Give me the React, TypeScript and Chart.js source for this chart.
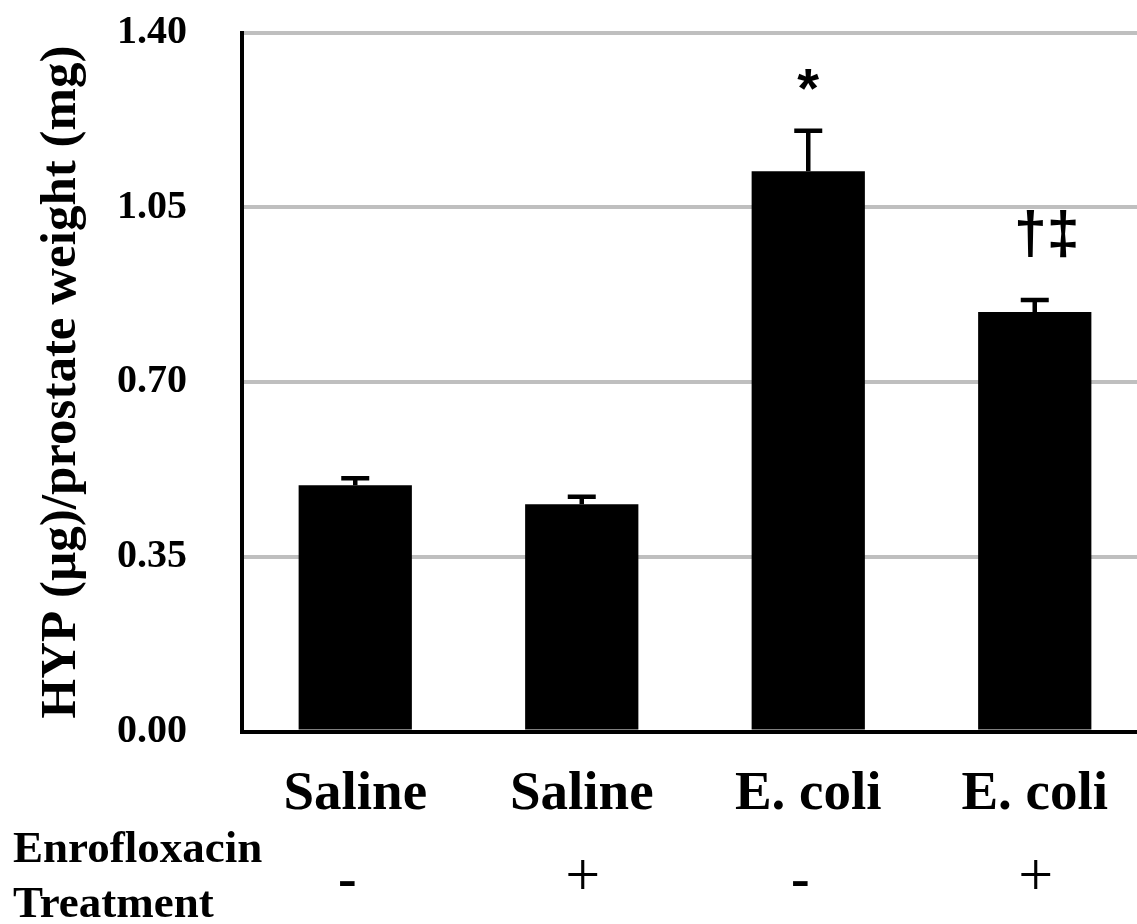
import React, { useEffect, useRef } from "react";
import { Chart, registerables } from "chart.js";

Chart.register(...registerables);

// ---- data ----
const categories = ["Saline", "Saline", "E. coli", "E. coli"];
const treatment = ["-", "+", "-", "+"];
const hypValues = [0.493, 0.455, 1.122, 0.84];
const hypErrors = [0.014, 0.015, 0.081, 0.024];
const markers = ["", "", "*", "†‡"];
const yTicks = [0, 0.35, 0.7, 1.05, 1.4];

const SERIF = '"Liberation Serif", "Times New Roman", serif';
const SANS = '"Liberation Sans", Arial, sans-serif';

const errorBarPlugin = {
  id: "errorBars",
  afterDatasetsDraw(chart: any) {
    const ctx = chart.ctx;
    const meta = chart.getDatasetMeta(0);
    const y = chart.scales.y;
    ctx.save();
    ctx.strokeStyle = "#000";
    ctx.lineWidth = 4.5;
    meta.data.forEach((bar: any, i: number) => {
      const top = y.getPixelForValue(hypValues[i] + hypErrors[i]);
      ctx.beginPath();
      ctx.moveTo(bar.x, bar.y);
      ctx.lineTo(bar.x, top);
      ctx.moveTo(bar.x - 14, top);
      ctx.lineTo(bar.x + 14, top);
      ctx.stroke();
    });
    ctx.restore();
  },
};

const markerPlugin = {
  id: "markers",
  afterDatasetsDraw(chart: any) {
    const ctx = chart.ctx;
    const meta = chart.getDatasetMeta(0);
    const y = chart.scales.y;
    ctx.save();
    ctx.fillStyle = "#000";
    ctx.textAlign = "center";
    ctx.textBaseline = "alphabetic";
    meta.data.forEach((bar: any, i: number) => {
      const m = markers[i];
      if (!m) return;
      const top = y.getPixelForValue(hypValues[i] + hypErrors[i]);
      if (m === "*") {
        ctx.font = `bold 56px ${SANS}`;
        ctx.fillText(m, bar.x, top - 24);
      } else {
        ctx.font = `bold 59px ${SANS}`;
        ctx.fillText(m, bar.x + 12, top - 47);
      }
    });
    ctx.restore();
  },
};

const rowPlugin = {
  id: "rowLabels",
  afterDraw(chart: any) {
    const ctx = chart.ctx;
    const xs = chart.scales.x;
    ctx.save();
    ctx.fillStyle = "#000";
    ctx.textBaseline = "alphabetic";
    ctx.textAlign = "left";
    ctx.font = `bold 45px ${SERIF}`;
    ctx.fillText("Enrofloxacin", 13, 862);
    ctx.fillText("Treatment", 13, 917);
    ctx.textAlign = "center";
    treatment.forEach((t, i) => {
      const px = xs.getPixelForValue(i);
      if (t === "+") {
        ctx.font = `62px ${SERIF}`;
        ctx.fillText("+", px + 1, 895);
      } else {
        ctx.font = `bold 56px ${SERIF}`;
        ctx.fillText("-", px - 8, 897);
      }
    });
    ctx.restore();
  },
};

export default function App() {
  const ref = useRef<HTMLCanvasElement | null>(null);

  useEffect(() => {
    document.body.style.margin = "0";
    if (!ref.current) return;
    Chart.defaults.color = "#000";
    const chart = new Chart(ref.current, {
      type: "bar",
      data: {
        labels: categories,
        datasets: [
          {
            data: hypValues,
            backgroundColor: "#000",
            borderWidth: 0,
            barPercentage: 0.5,
            categoryPercentage: 1,
          },
        ],
      },
      options: {
        responsive: false,
        animation: false,
        layout: { padding: { left: 0, top: 32.5, right: 12, bottom: 0 } },
        plugins: {
          legend: { display: false },
          tooltip: { enabled: false },
        },
        scales: {
          x: {
            grid: { display: true, color: "rgba(0,0,0,0)", drawTicks: false },
            border: { display: true, color: "#000", width: 4 },
            ticks: {
              font: { family: SERIF, weight: "bold", size: 55 },
              color: "#000",
              padding: 30.5,
              maxRotation: 0,
              autoSkip: false,
            },
            afterFit(scale: any) {
              scale.height = 192.5;
            },
          },
          y: {
            min: 0,
            max: 1.4,
            afterBuildTicks(scale: any) {
              scale.ticks = yTicks.map((v) => ({ value: v }));
            },
            grid: { color: "#bfbfbf", lineWidth: 4, drawTicks: false },
            border: { display: true, color: "#000", width: 4 },
            ticks: {
              font: { family: SERIF, weight: "bold", size: 40 },
              color: "#000",
              padding: 55,
              callback: (v: any) => Number(v).toFixed(2),
            },
            title: {
              display: true,
              text: "HYP (µg)/prostate weight (mg)",
              font: { family: SERIF, weight: "bold", size: 51 },
              color: "#000",
              padding: { top: 31, bottom: 0 },
            },
            afterFit(scale: any) {
              scale.width = 242;
              scale.paddingTop = 0;
              scale.paddingBottom = 0;
            },
          },
        },
      },
      plugins: [errorBarPlugin, markerPlugin, rowPlugin],
    });
    return () => chart.destroy();
  }, []);

  return (
    <div style={{ width: 1137, height: 924, overflow: "hidden", background: "#fff" }}>
      <canvas ref={ref} width={1160} height={924} style={{ display: "block" }} />
    </div>
  );
}
